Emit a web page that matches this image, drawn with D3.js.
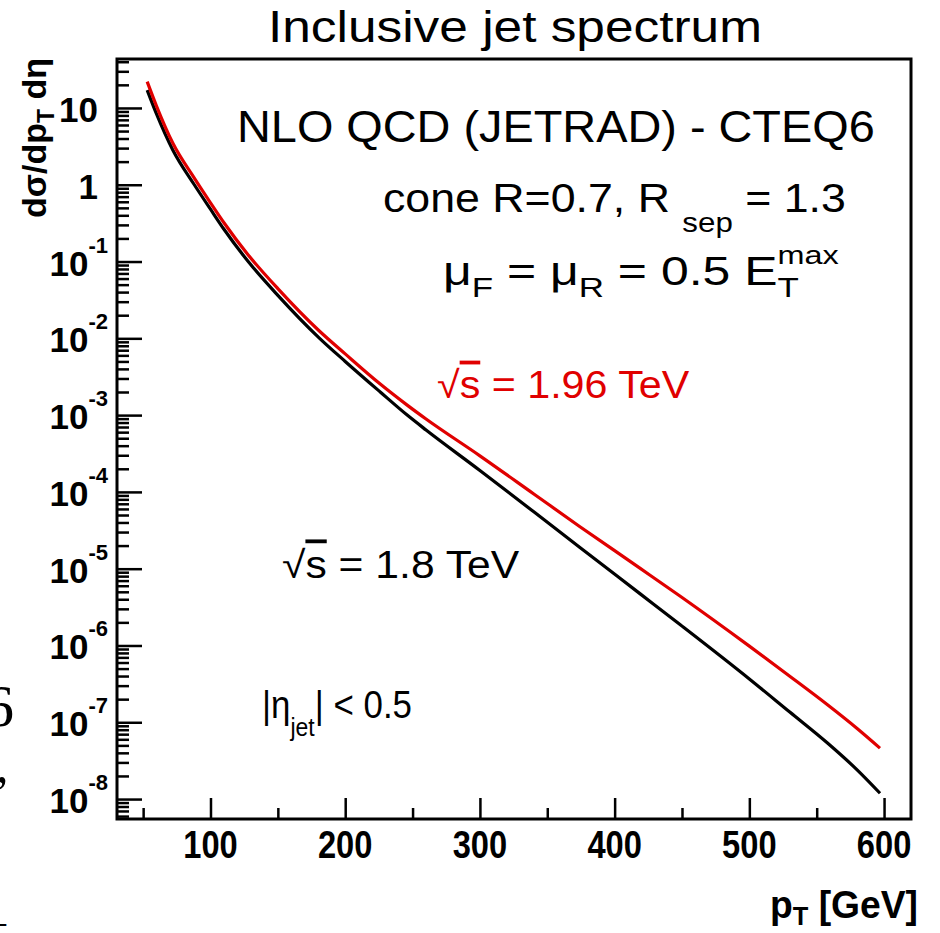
<!DOCTYPE html>
<html><head><meta charset="utf-8">
<script src="https://cdn.jsdelivr.net/npm/d3@7"></script>
<style>
html,body{margin:0;padding:0;background:#fff;}
svg{display:block;}
text{font-family:"Liberation Sans",Arial,Helvetica,sans-serif;}
</style></head><body>
<svg id="chart" width="940" height="933"></svg>
<script>
// Inclusive jet cross section dσ/dpT dη (|η| < 0.5) vs jet pT, two collider energies
const pT      = [53, 60, 72, 88, 100, 110, 128, 150, 181, 200, 226, 246, 260, 300, 340, 374, 419, 449, 500, 530, 558, 580, 597];
const xsec18  = [17.1, 8.3, 2.84, 1.0, 0.48, 0.263, 0.100, 0.0363, 0.0100, 0.0050, 0.0020, 0.00100, 0.00064,
                 0.00019, 0.000055, 0.000019, 4.7e-6, 1.85e-6, 3.67e-7, 1.36e-7, 5.37e-8, 2.4e-8, 1.19e-8];
const xsec196 = [22.0, 10.5, 3.49, 1.22, 0.582, 0.320, 0.122, 0.0444, 0.01236, 0.00627, 0.00254, 0.00135, 0.00089,
                 0.000295, 0.000094, 0.0000355, 1.01e-5, 4.34e-6, 9.8e-7, 3.98e-7, 1.69e-7, 8.3e-8, 4.6e-8];

// Axis ticks
const xMajorTicks = [100, 200, 300, 400, 500, 600];
const xMinorTicks = [50, 150, 250, 350, 450, 550];
const yDecades = [1, 0, -1, -2, -3, -4, -5, -6, -7, -8];   // exponents of labelled ticks

const RED = "#e00000";
const svg = d3.select("#chart");

const frame = {left: 117, top: 59, right: 911, bottom: 819};
const x = d3.scaleLinear().domain([30.6, 620]).range([frame.left, frame.right]);
const y = d3.scaleLog().domain([5.5e-9, 43.4]).range([frame.bottom, frame.top]);

// ---- ticks (drawn inward) ----
const yMajor = yDecades.map(k => Math.pow(10, k));
const yMinor = [];
for (let k = -9; k <= 1; k++) for (let m = 2; m <= 9; m++) {
  const v = m * Math.pow(10, k);
  if (v >= y.domain()[0] && v <= y.domain()[1]) yMinor.push(v);
}
function tickStyle(g) {
  g.select(".domain").remove();
  g.selectAll(".tick text").remove();
  g.selectAll(".tick line").attr("stroke", "#000").attr("stroke-width", 2.5);
}
svg.append("g").attr("transform", `translate(${frame.left},0)`)
  .call(d3.axisRight(y).tickValues(yMinor).tickSize(12).tickFormat(() => "")).call(tickStyle);
svg.append("g").attr("transform", `translate(${frame.left},0)`)
  .call(d3.axisRight(y).tickValues(yMajor).tickSize(25).tickFormat(() => "")).call(tickStyle);
svg.append("g").attr("transform", `translate(0,${frame.bottom})`)
  .call(d3.axisTop(x).tickValues(xMinorTicks).tickSize(11).tickFormat(() => "")).call(tickStyle);
svg.append("g").attr("transform", `translate(0,${frame.bottom})`)
  .call(d3.axisTop(x).tickValues(xMajorTicks).tickSize(21).tickFormat(() => "")).call(tickStyle);

// ---- curves ----
const line = d3.line().x(d => x(d[0])).y(d => y(d[1])).curve(d3.curveMonotoneX);
svg.append("path").datum(d3.zip(pT, xsec18))
  .attr("d", line).attr("fill", "none").attr("stroke", "#000").attr("stroke-width", 3.2);
svg.append("path").datum(d3.zip(pT, xsec196))
  .attr("d", line).attr("fill", "none").attr("stroke", RED).attr("stroke-width", 3.2);

// ---- frame ----
svg.append("rect").attr("x", frame.left).attr("y", frame.top)
  .attr("width", frame.right - frame.left).attr("height", frame.bottom - frame.top)
  .attr("fill", "none").attr("stroke", "#000").attr("stroke-width", 3);

// ---- tick labels ----
svg.append("g").selectAll("text").data(xMajorTicks).join("text")
  .attr("transform", d => `translate(${x(d)},858) scale(0.86,1)`)
  .attr("text-anchor", "middle").attr("font-weight", "bold").attr("font-size", 38)
  .text(d => d);

const yl = svg.append("g").selectAll("text").data(yDecades).join("text")
  .attr("font-weight", "bold").attr("font-size", 35).attr("text-anchor", "end")
  .attr("y", k => y(Math.pow(10, k)) + 14)
  .attr("x", k => (k >= 0 ? 98 : 108));
yl.each(function(k) {
  const t = d3.select(this);
  if (k === 1) t.text("10");
  else if (k === 0) t.text("1");
  else {
    t.append("tspan").text("10");
    t.append("tspan").attr("font-size", 22).attr("dy", -23).text(String(k));
  }
});

// Place a text group so its ink spans [x0, x0 + width] with the given baseline
function fitText(x0, width, baseline, build, rotate) {
  const g = svg.append("g");
  const t = g.append("text");
  build(t);
  const bb = t.node().getBBox();
  const s = width / bb.width;
  if (rotate) g.attr("transform", `translate(${baseline},${x0}) rotate(-90) translate(${-bb.x * s},0) scale(${s},1)`);
  else g.attr("transform", `translate(${x0 - bb.x * s},${baseline}) scale(${s},1)`);
  return t;
}

// title
fitText(268, 494, 42, t => t.attr("font-size", 44).text("Inclusive jet spectrum"));

// axis titles
fitText(218, 160, 46, t => {
  t.attr("font-size", 34).attr("font-weight", "bold");
  t.append("tspan").text("dσ/dp");
  t.append("tspan").attr("font-size", 23).attr("dy", 8).text("T");
  t.append("tspan").attr("dy", -8).text(" dη");
}, true);
fitText(770, 148, 918, t => {
  t.attr("font-size", 38).attr("font-weight", "bold");
  t.append("tspan").text("p");
  t.append("tspan").attr("font-size", 26).attr("dy", 7).text("T");
  t.append("tspan").attr("dy", -7).text(" [GeV]");
});

// annotations
fitText(237, 638, 142, t => t.attr("font-size", 44).text("NLO QCD (JETRAD) - CTEQ6"));
fitText(383, 463, 212, t => {
  t.attr("font-size", 40);
  t.append("tspan").text("cone R=0.7, R ");
  t.append("tspan").attr("font-size", 28).attr("dy", 20).text("sep");
  t.append("tspan").attr("dy", -20).text(" = 1.3");
});
fitText(443, 396, 285, t => {
  t.attr("font-size", 40);
  t.append("tspan").text("μ");
  t.append("tspan").attr("font-size", 28).attr("dy", 12).text("F");
  t.append("tspan").attr("dy", -12).text(" = μ");
  t.append("tspan").attr("font-size", 28).attr("dy", 12).text("R");
  t.append("tspan").attr("dy", -12).text(" = 0.5 E");
  t.append("tspan").attr("font-size", 28).attr("dy", 12).text("T");
  t.append("tspan").attr("font-size", 26).attr("dx", -17).attr("dy", -33).text("max");
});
function rootS(t, size, label) {
  t.attr("font-size", size);
  t.append("tspan").text("√");
  t.append("tspan").style("text-decoration", "overline").text("s");
  t.append("tspan").text(label);
}
fitText(437, 253, 398, t => { rootS(t, 38, " = 1.96 TeV"); t.attr("fill", RED); });
fitText(282, 238, 578, t => rootS(t, 38, " = 1.8 TeV"));
fitText(262, 150, 718, t => {
  t.attr("font-size", 38);
  t.append("tspan").text("|η");
  t.append("tspan").attr("font-size", 25).attr("dy", 18).text("jet");
  t.append("tspan").attr("dy", -18).text("| < 0.5");
});

// glyph fragments at the left page edge
const serif = "'Liberation Serif',serif";
svg.append("text").attr("x", -16).attr("y", 726).attr("font-size", 60)
  .style("font-family", serif).text("6");
svg.append("text").attr("x", -4).attr("y", 782).attr("font-size", 50)
  .style("font-family", serif).text(",");
svg.append("text").attr("x", -14).attr("y", 934).attr("font-size", 40)
  .style("font-family", serif).text("–");
</script>
</body></html>
